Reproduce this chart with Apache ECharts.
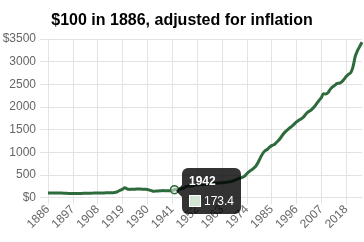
<!DOCTYPE html>
<html>
<head>
<meta charset="utf-8">
<script src="https://cdn.jsdelivr.net/npm/echarts@6/dist/echarts.min.js"></script>
<style>
html,body{margin:0;padding:0;background:#fff;}
#c{width:364px;height:242px;}
</style>
</head>
<body>
<div id="c"></div>
<script>
const titleText = '$100 in 1886, adjusted for inflation';
const years = [];
for (let y = 1886; y <= 2025; y++) years.push(String(y));
const values = [
  100,100,100,98,97,97,97,96,93,91,
  91,90,90,90,90,91,93,95,96,95,
  97,101,98,97,101,101,104,105,106,107,
  116,136,161,184,213,190,179,182,182,186,
  188,185,182,182,178,162,146,138,143,146,
  148,153,150,148,149,156,173.4,184,187,191,
  207,237,256,253,256,276,282,284,286,285,
  289,299,307,310,315,318,322,325,330,335,
  345,355,370,390,413,431,445,472,525,572,
  605,644,694,772,876,967,1027,1060,1105,1145,
  1166,1209,1259,1319,1391,1449,1493,1537,1577,1621,
  1669,1708,1734,1773,1832,1884,1914,1957,2010,2078,
  2145,2206,2291,2283,2320,2393,2443,2478,2519,2522,
  2554,2608,2672,2720,2754,2883,3114,3242,3337,3430
];
const yTicks = [0, 500, 1000, 1500, 2000, 2500, 3000, 3500];
const tipIndex = 56;

const lineColor = '#2e6b3c';
const gridColor = '#e3e3e3';
const font = '"Liberation Sans", Arial, Helvetica, sans-serif';

const chart = echarts.init(document.getElementById('c'), null, {renderer: 'canvas'});
chart.setOption({
  animation: false,
  title: {
    text: titleText,
    left: 'center',
    top: 8,
    textStyle: {fontFamily: font, fontSize: 16, fontWeight: 'bold', color: '#000'}
  },
  grid: {left: 48, right: 2, top: 39, bottom: 44.5, containLabel: false, outerBoundsMode: 'none'},
  tooltip: {
    trigger: 'axis',
    triggerOn: 'none',
    alwaysShowContent: true,
    transitionDuration: 0,
    axisPointer: {type: 'none'},
    backgroundColor: 'transparent',
    borderWidth: 0,
    padding: 0,
    extraCssText: 'box-shadow:none;',
    position: function () {
      const p = chart.convertToPixel({seriesIndex: 0}, [years[tipIndex], values[tipIndex]]);
      return [p[0] + 7, p[1] - 22];
    },
    formatter: function (params) {
      const p = params[0];
      return '<div style="position:relative;background:rgba(0,0,0,0.8);border-radius:6px;padding:6px 7px 6px 7px;font-family:' + font.replace(/"/g, "'") + ';color:#fff;width:45px;box-sizing:content-box;">' +
        '<div style="position:absolute;left:-6px;top:17px;width:0;height:0;border-top:6px solid transparent;border-bottom:6px solid transparent;border-right:6px solid rgba(0,0,0,0.8);"></div>' +
        '<div style="font-weight:bold;font-size:12px;line-height:15px;">' + p.axisValue + '</div>' +
        '<div style="margin-top:5px;font-size:12px;line-height:14px;display:flex;align-items:center;">' +
        '<span style="display:inline-block;width:10px;height:10px;background:#d3e6d6;border:1px solid #fff;margin-right:3px;"></span>' +
        '<span>' + p.value + '</span></div></div>';
    }
  },
  xAxis: {
    type: 'category',
    data: years,
    boundaryGap: false,
    axisLine: {show: true, lineStyle: {color: gridColor, width: 1}},
    axisTick: {show: true, interval: 10, length: 7, lineStyle: {color: gridColor}},
    splitLine: {show: true, interval: 10, lineStyle: {color: gridColor, width: 1}},
    axisLabel: {interval: 10, rotate: 45, margin: 10, color: '#666', fontFamily: font, fontSize: 12}
  },
  yAxis: {
    type: 'value',
    min: yTicks[0],
    max: yTicks[yTicks.length - 1],
    interval: 500,
    axisLine: {show: true, lineStyle: {color: gridColor, width: 1}},
    axisTick: {show: true, length: 8, lineStyle: {color: gridColor}},
    splitLine: {show: true, lineStyle: {color: gridColor, width: 1}},
    axisLabel: {
      margin: 12, color: '#666', fontFamily: font, fontSize: 12,
      formatter: function (v) { return (v === yTicks[0] || v === yTicks[yTicks.length - 1]) ? '$' + v : String(v); }
    }
  },
  series: [{
    type: 'line',
    data: values,
    smooth: 0.4,
    showSymbol: false,
    symbol: 'none',
    lineStyle: {color: lineColor, width: 3},
    itemStyle: {color: lineColor},
    emphasis: {disabled: true},
    markPoint: {
      symbol: 'circle',
      symbolSize: 8,
      silent: true,
      label: {show: false},
      itemStyle: {color: 'rgba(211,230,214,0.6)', borderColor: lineColor, borderWidth: 1.5},
      data: [{coord: [years[tipIndex], values[tipIndex]]}]
    }
  }]
});
chart.dispatchAction({type: 'showTip', seriesIndex: 0, dataIndex: tipIndex});
</script>
</body>
</html>
